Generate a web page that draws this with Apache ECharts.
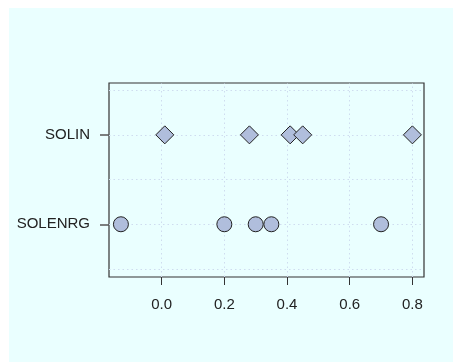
<!DOCTYPE html>
<html>
<head>
<meta charset="utf-8">
<script src="https://cdn.jsdelivr.net/npm/echarts@6/dist/echarts.min.js"></script>
<style>
html,body{margin:0;padding:0;background:#ffffff;}
#chart{width:453px;height:362px;}
</style>
</head>
<body>
<div id="chart"></div>
<script>
// Data
var categories = ['SOLENRG', 'SOLIN'];
var categoryPositions = [1, 2];
var solenrgValues = [-0.13, 0.20, 0.30, 0.35, 0.70];
var solinValues = [0.01, 0.28, 0.41, 0.45, 0.80];
var xTickValues = [0.0, 0.2, 0.4, 0.6, 0.8];
var xTickLabels = ['0.0', '0.2', '0.4', '0.6', '0.8'];
var yGridValues = [0.5, 1, 1.5, 2, 2.5];

var chart = echarts.init(document.getElementById('chart'), null, {renderer: 'canvas'});

var gridLineStyle = {color: '#cfdcef', type: [1.5, 3], width: 1};
var markLineData = [];
xTickValues.forEach(function (v) { markLineData.push({xAxis: v}); });
yGridValues.forEach(function (v) { markLineData.push({yAxis: v}); });

function pairs(vals, pos) { return vals.map(function (v) { return [v, pos]; }); }

var option = {
  backgroundColor: '#ffffff',
  animation: false,
  graphic: [{
    type: 'rect', left: 9, top: 8, z: -10,
    shape: {width: 444, height: 354},
    style: {fill: '#eaffff'}
  }],
  grid: {
    left: 109, top: 83, right: 29, bottom: 85,
    show: true, backgroundColor: '#eaffff', borderColor: '#333333', borderWidth: 1.2
  },
  xAxis: {
    type: 'value', min: -0.168, max: 0.837,
    axisLine: {show: false, onZero: false},
    splitLine: {show: false},
    axisTick: {show: true, length: 8, customValues: xTickValues, lineStyle: {color: '#333333'}},
    axisLabel: {
      customValues: xTickValues, margin: 20,
      formatter: function (v) {
        var i = xTickValues.indexOf(v);
        return i >= 0 ? xTickLabels[i] : '';
      },
      fontFamily: 'Liberation Sans, Arial, sans-serif', fontSize: 15, color: '#222222'
    }
  },
  yAxis: {
    type: 'value', min: 0.41, max: 2.58,
    axisLine: {show: false, onZero: false},
    splitLine: {show: false},
    axisTick: {show: true, length: 9, customValues: categoryPositions, lineStyle: {color: '#555555', width: 1.5}},
    axisLabel: {
      customValues: categoryPositions, margin: 19,
      formatter: function (v) {
        var i = categoryPositions.indexOf(v);
        return i >= 0 ? categories[i] : '';
      },
      fontFamily: 'Liberation Sans, Arial, sans-serif', fontSize: 15, color: '#222222'
    }
  },
  series: [
    {
      type: 'scatter', name: 'grid', data: [], silent: true,
      markLine: {silent: true, symbol: 'none', label: {show: false}, lineStyle: gridLineStyle, data: markLineData, animation: false}
    },
    {
      type: 'scatter', name: 'SOLENRG', data: pairs(solenrgValues, categoryPositions[0]),
      symbol: 'circle', symbolSize: 15, z: 5,
      itemStyle: {color: '#b0bedc', borderColor: '#222222', borderWidth: 1, opacity: 1}
    },
    {
      type: 'scatter', name: 'SOLIN', data: pairs(solinValues, categoryPositions[1]),
      symbol: 'diamond', symbolSize: [18, 18], z: 5,
      itemStyle: {color: '#b0bedc', borderColor: '#222222', borderWidth: 1, opacity: 1}
    }
  ]
};
chart.setOption(option);
</script>
</body>
</html>
